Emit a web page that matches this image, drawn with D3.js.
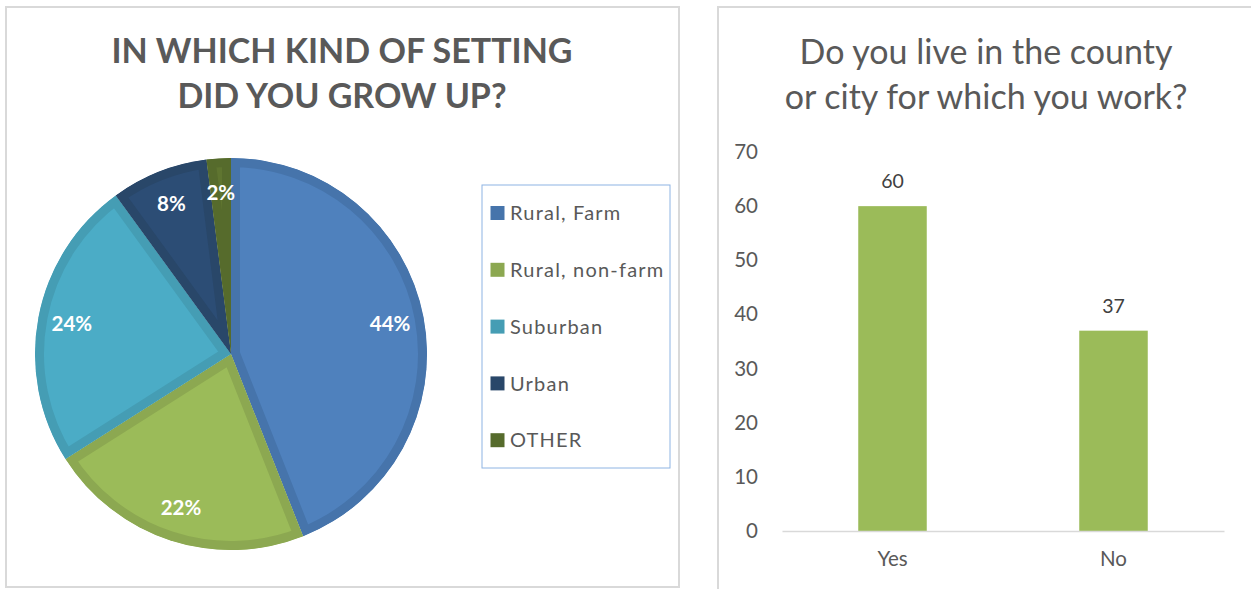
<!DOCTYPE html>
<html>
<head>
<meta charset="utf-8">
<script src="https://cdn.jsdelivr.net/npm/d3@7"></script>
<style>
  html, body { margin: 0; padding: 0; background: #ffffff; }
  svg { display: block; }
  text { font-family: Lato, "Open Sans", sans-serif; }
</style>
</head>
<body>
<svg id="chart" width="1251" height="589"></svg>
<script>
// Pie: setting respondents grew up in (percent)
const settingCategories = ["Rural, Farm", "Rural, non-farm", "Suburban", "Urban", "OTHER"];
const settingValues = [44, 22, 24, 8, 2];
const settingFill = ["#4F81BD", "#9BBB59", "#4BACC6", "#2C4D75", "#5F7530"];
const settingEdge = ["#4674AB", "#8CA851", "#459DB4", "#294769", "#566B2C"];
const pieTitleLines = ["IN WHICH KIND OF SETTING", "DID YOU GROW UP?"];

// Bar: living in the employing county or city (count)
const residenceCategories = ["Yes", "No"];
const residenceValues = [60, 37];
const residenceTicks = [0, 10, 20, 30, 40, 50, 60, 70];
const barTitleLines = ["Do you live in the county", "or city for which you work?"];

const svg = d3.select("#chart");

// ---------- left panel: pie ----------
svg.append("rect")
  .attr("x", 6).attr("y", 7).attr("width", 673).attr("height", 580)
  .attr("fill", "#fff").attr("stroke", "#d9d9d9").attr("stroke-width", 2);

svg.append("text")
  .attr("text-anchor", "middle")
  .attr("fill", "#595959").attr("font-weight", 700).attr("font-size", 34)
  .selectAll("tspan").data(pieTitleLines).join("tspan")
  .attr("x", 342).attr("y", (d, i) => 63 + i * 45)
  .text(d => d);

const cx = 231, cy = 354, R = 196;
const pie = d3.pie().sort(null).value(d => d)(settingValues);
const arc = d3.arc().innerRadius(0).outerRadius(R);
const labelArc = d3.arc().innerRadius(162).outerRadius(162);

const pieG = svg.append("g").attr("transform", `translate(${cx},${cy})`);
const defs = svg.append("defs");
pie.forEach((p, i) => {
  defs.append("clipPath").attr("id", "slice" + i)
    .append("path").attr("d", arc(p));
});
// each wedge carries a darker inner rim, clipped so it stays inside the wedge
pieG.selectAll("path.slice").data(pie).join("path")
  .attr("class", "slice")
  .attr("d", arc)
  .attr("fill", (d, i) => settingFill[i])
  .attr("stroke", (d, i) => settingEdge[i])
  .attr("stroke-width", 18)
  .attr("stroke-linejoin", "miter")
  .attr("clip-path", (d, i) => `url(#slice${i})`);

pieG.selectAll("text.pct").data(pie).join("text")
  .attr("class", "pct")
  .attr("transform", d => `translate(${labelArc.centroid(d)})`)
  .attr("text-anchor", "middle").attr("dy", "0.36em")
  .attr("fill", "#ffffff").attr("font-weight", 700).attr("font-size", 20.5)
  .text(d => d.data + "%");

// legend
const legend = svg.append("g");
legend.append("rect")
  .attr("x", 482).attr("y", 185).attr("width", 188).attr("height", 283)
  .attr("fill", "#fff").attr("stroke", "#8EB4E3").attr("stroke-width", 1);
const items = legend.selectAll("g.item").data(settingCategories).join("g")
  .attr("class", "item")
  .attr("transform", (d, i) => `translate(490, ${213 + i * 56.8})`);
items.append("rect")
  .attr("x", 0.5).attr("y", -7).attr("width", 14).attr("height", 14)
  .attr("fill", (d, i) => settingEdge[i]);
items.append("text")
  .attr("x", 20).attr("dy", "0.36em")
  .attr("fill", "#595959").attr("font-size", 20)
  .attr("letter-spacing", 1.2)
  .text(d => d);

// ---------- right panel: bar ----------
svg.append("rect")
  .attr("x", 718).attr("y", 7).attr("width", 560).attr("height", 600)
  .attr("fill", "#fff").attr("stroke", "#d9d9d9").attr("stroke-width", 2);

svg.append("text")
  .attr("text-anchor", "middle")
  .attr("fill", "#595959").attr("font-size", 34)
  .selectAll("tspan").data(barTitleLines).join("tspan")
  .attr("x", 986).attr("y", (d, i) => 64 + i * 45)
  .text(d => d);

const x = d3.scaleBand().domain(residenceCategories)
  .range([782, 1224]).paddingInner(0.69).paddingOuter(0.345);
const y = d3.scaleLinear().domain([0, 70]).range([531, 152]);

const yAxis = svg.append("g")
  .attr("transform", "translate(782,0)")
  .call(d3.axisLeft(y).tickValues(residenceTicks).tickSize(0).tickPadding(24));
yAxis.select(".domain").remove();
yAxis.selectAll("text")
  .attr("fill", "#595959").attr("font-size", 20.5)
  .attr("font-family", "Lato, 'Open Sans', sans-serif");

svg.selectAll("rect.bar").data(residenceValues).join("rect")
  .attr("class", "bar")
  .attr("x", (d, i) => x(residenceCategories[i]))
  .attr("width", x.bandwidth())
  .attr("y", d => y(d))
  .attr("height", d => y(0) - y(d))
  .attr("fill", "#9BBB59");

const xAxis = svg.append("g")
  .attr("transform", "translate(0,531)")
  .call(d3.axisBottom(x).tickSize(0).tickPadding(20));
xAxis.select(".domain").attr("stroke", "#d9d9d9").attr("stroke-width", 1.5);
xAxis.selectAll("text")
  .attr("fill", "#595959").attr("font-size", 20.5)
  .attr("font-family", "Lato, 'Open Sans', sans-serif");

svg.selectAll("text.val").data(residenceValues).join("text")
  .attr("class", "val")
  .attr("x", (d, i) => x(residenceCategories[i]) + x.bandwidth() / 2)
  .attr("y", d => y(d) - 18)
  .attr("text-anchor", "middle")
  .attr("fill", "#404040").attr("font-size", 19.5)
  .text(d => d);
</script>
</body>
</html>
